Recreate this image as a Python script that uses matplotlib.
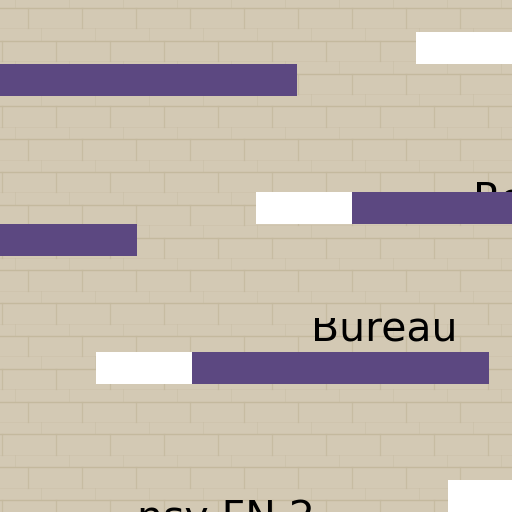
import matplotlib

matplotlib.use("Agg")
import matplotlib.pyplot as plt  # noqa: E402
from matplotlib.patches import Rectangle  # noqa: E402

# barras (unidades de linha; 1 unidade = uma faixa)
linhas = [1, 2, 6, 7, 11, 15]
inicio_branco = [13.0, -4.0, 8.0, -6.0, 3.0, 14.0]
larg_branco = [3.0, 3.0, 3.0, 3.0, 3.0, 3.0]
larg_roxo = [5.0, 10.28, 7.0, 7.28, 9.28, 4.0]

# rótulos
rotulos = ["Renard", "Chalumeau", "Bureau", "nsy FN 2"]
rot_x = [14.78, 3.30, 9.72, 4.28]
rot_y = [6.62, 7.86, 10.64, 16.56]
rot_ha = ["left", "right", "left", "left"]
rot_corte = [None, None, 9.94, 15.56]

FUNDO = "#d3c9b4"
JUNTA = "#c4b99e"
ROXO = "#5c4881"

fig = plt.figure(figsize=(5.12, 5.12), dpi=100)
fig.patch.set_facecolor(FUNDO)

# textura de tijolos (decoração de fundo, em pixels)
bg = fig.add_axes([0, 0, 1, 1])
bg.set_xlim(0, 512)
bg.set_ylim(512, 0)
bg.set_axis_off()
bg.set_facecolor(FUNDO)
passo = 32.8
for k in range(-1, 17):
    y0 = 8 + passo * k
    bg.axhline(y0, color=JUNTA, lw=1.0, zorder=0)
    bg.axhline(y0 + passo * 0.62, color=JUNTA, lw=0.6, alpha=0.3, zorder=0)
    off = 28 if k % 2 == 0 else 2
    x = off
    while x < 520:
        bg.plot([x, x], [y0, y0 + passo * 0.62], color=JUNTA, lw=0.9,
                alpha=0.8, zorder=0)
        bg.plot([x + 13, x + 13], [y0 + passo * 0.62, y0 + passo],
                color=JUNTA, lw=0.6, alpha=0.4, zorder=0)
        x += 54

ax = fig.add_axes([0, 0, 1, 1])
ax.set_xlim(0, 16)
ax.set_ylim(16, 0)
ax.set_axis_off()
ax.patch.set_alpha(0)

for txt, x, y, ha, corte in zip(rotulos, rot_x, rot_y, rot_ha, rot_corte):
    t = ax.text(x, y, txt, ha=ha, va="baseline", fontsize=29.5,
                family="DejaVu Sans", color="black", zorder=1)
    if corte is not None:
        t.set_clip_on(True)
        t.set_clip_path(Rectangle((-5, corte), 30, 10, transform=ax.transData))

ax.barh(linhas, larg_branco, left=inicio_branco, height=1.0, align="edge",
        color="white", zorder=2)
inicio_roxo = [a + b for a, b in zip(inicio_branco, larg_branco)]
ax.barh(linhas, larg_roxo, left=inicio_roxo, height=1.0, align="edge",
        color=ROXO, zorder=2)

fig.savefig("out.png", dpi=100, facecolor=FUNDO)
